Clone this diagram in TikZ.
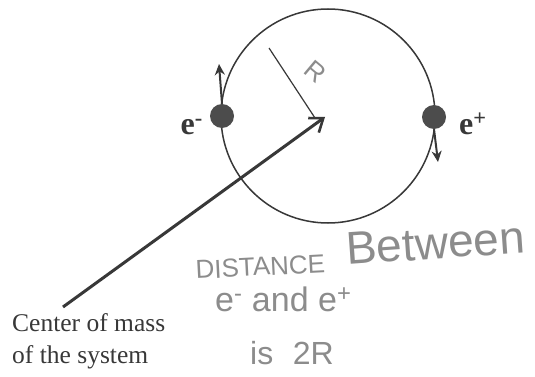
\documentclass[tikz,border=0pt]{standalone}
\usepackage{fontspec}
\setmainfont{Liberation Serif}
\newfontfamily\hand{Liberation Sans}
\usetikzlibrary{arrows.meta}
\definecolor{ink}{gray}{0.22}
\definecolor{pencil}{gray}{0.55}
\begin{document}
\begin{tikzpicture}[x=1pt,y=-1pt,
  orbit/.style={draw=ink,line width=1.5pt},
  particle/.style={circle,fill=ink!90!white,minimum size=24pt,inner sep=0pt},
  motion/.style={draw=ink,line width=2pt,-{Stealth[length=11pt,width=10pt]}},
  pointer/.style={draw=ink,line width=3pt,-{Straight Barb[length=12pt,width=18pt,line width=2.6pt]}},
  radline/.style={draw=ink,line width=1.2pt},
  label/.style={text=ink,font=\bfseries\fontsize{32}{34}\selectfont,inner sep=0pt},
  handw/.style={text=pencil,inner sep=0pt}]
\useasboundingbox[fill=white] (0,0) rectangle (535,377);
\coordinate (O) at (325,117);
\draw[orbit] (328,116) circle[radius=107pt];
\node[particle] (em) at (222,116) {};
\node[particle] (ep) at (434,117) {};
\coordinate (emtip) at (219,64);
\coordinate (eptip) at (438,162);
\draw[motion] (em.north) -- (emtip);
\draw[motion] (ep.south) -- (eptip);
\node[label,anchor=base east] (lem) at (203,135) {e\textsuperscript{-}};
\node[label,anchor=base west] (lep) at (459,135) {e\textsuperscript{+}};
\coordinate (rstart) at (269,48);
\draw[radline] (rstart) -- (315,118);
\node[handw,font=\hand\fontsize{26}{28}\selectfont,rotate=-40] (R) at (315,72) {R};
\node[text=ink,font=\fontsize{25.5}{32}\selectfont,align=left,anchor=north west,inner sep=0pt] (com) at (12,313) {Center of mass\\of the system};
\coordinate (comstart) at (63,307);
\draw[pointer] (comstart) -- (O);
\node[handw,font=\hand\fontsize{26}{28}\selectfont,rotate=3,anchor=base west] (dist) at (196,279) {DISTANCE};
\node[handw,font=\hand\fontsize{46}{48}\selectfont,rotate=4,anchor=base west] (betw) at (347,265) {Between};
\node[handw,font=\hand\fontsize{34}{36}\selectfont,anchor=base west] (and) at (215,311) {e\textsuperscript{-} and e\textsuperscript{+}};
\node[handw,font=\hand\fontsize{32}{34}\selectfont,anchor=base west] (is) at (250,364) {is\,\, 2R};
\end{tikzpicture}
\end{document}
